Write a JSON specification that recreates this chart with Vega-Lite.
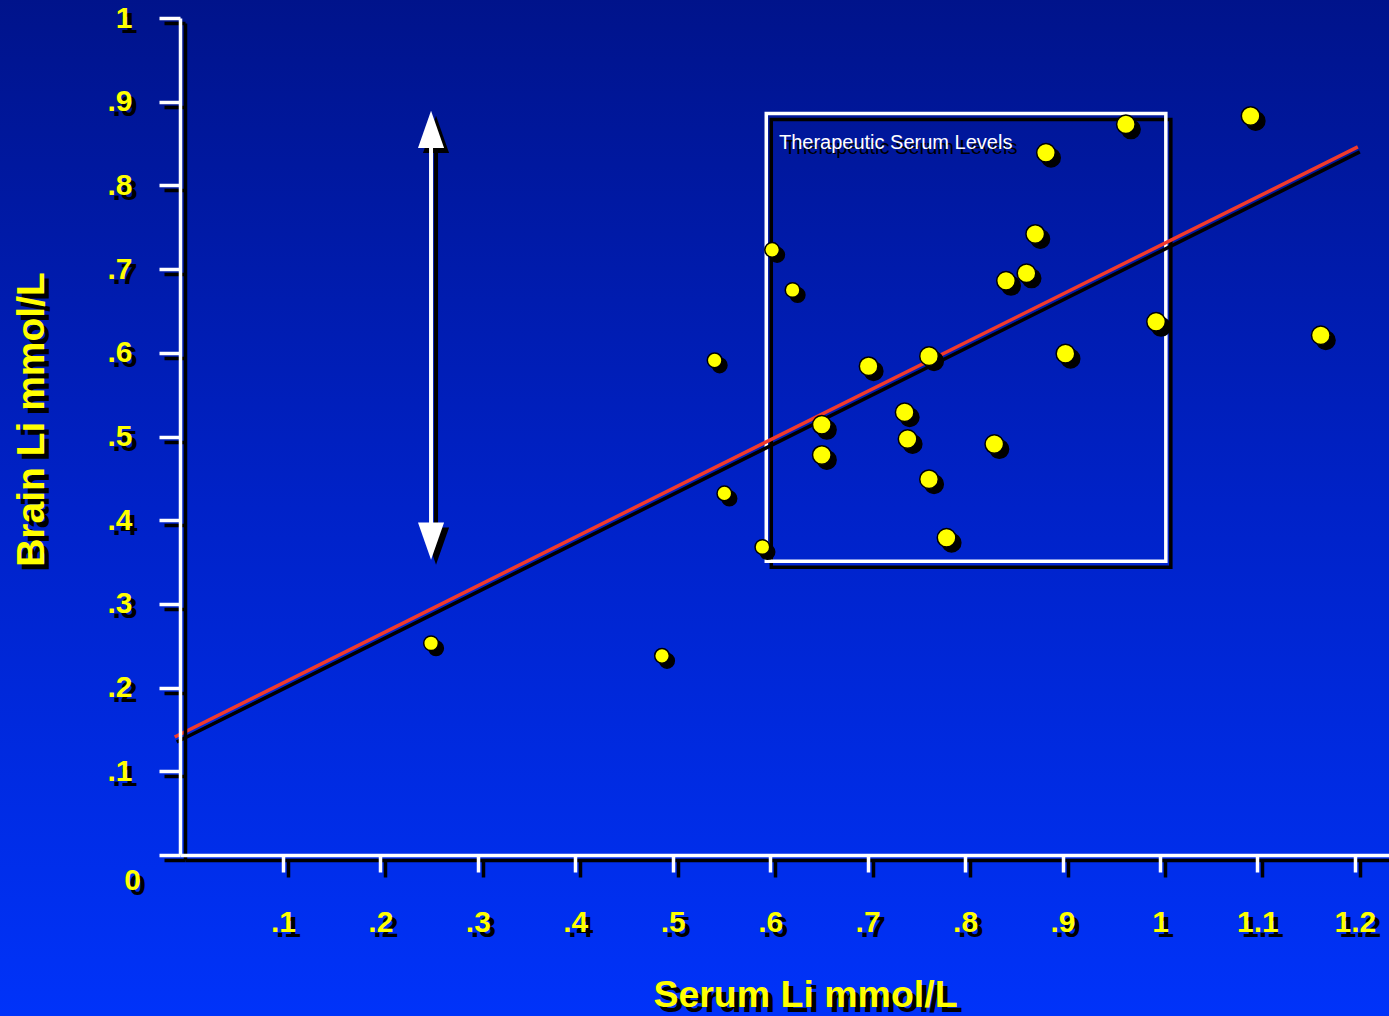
{
  "$schema": "https://vega.github.io/schema/vega-lite/v6.json",
  "width": 1209,
  "height": 837,
  "autosize": {"type": "none"},
  "padding": {"left": 180, "top": 18, "right": 0, "bottom": 161},
  "background": "#0026C8",
  "config": {"view": {"stroke": null}},
  "datasets": {
    "bg": [{"x": -0.2, "x2": 1.3, "y": -0.2, "y2": 1.03}],
    "box": [{"x": 0.596, "x2": 1.006, "y": 0.351, "y2": 0.886, "lx": 0.609, "ly": 0.843, "label": "Therapeutic Serum Levels"}],
    "arrow": [{"x": 0.252, "yTop": 0.867, "yBottom": 0.375}],
    "fit": [{"x": -0.011, "y": 0.141}, {"x": 1.203, "y": 0.846}],
    "points": [
      {"serum": 0.252, "brain": 0.253, "series": "1"},
      {"serum": 0.489, "brain": 0.238, "series": "1"},
      {"serum": 0.543, "brain": 0.591, "series": "1"},
      {"serum": 0.553, "brain": 0.432, "series": "1"},
      {"serum": 0.592, "brain": 0.368, "series": "1"},
      {"serum": 0.602, "brain": 0.723, "series": "1"},
      {"serum": 0.623, "brain": 0.675, "series": "1"},
      {"serum": 0.653, "brain": 0.514, "series": "2"},
      {"serum": 0.653, "brain": 0.478, "series": "2"},
      {"serum": 0.701, "brain": 0.584, "series": "2"},
      {"serum": 0.738, "brain": 0.529, "series": "2"},
      {"serum": 0.741, "brain": 0.497, "series": "2"},
      {"serum": 0.763, "brain": 0.596, "series": "2"},
      {"serum": 0.763, "brain": 0.449, "series": "2"},
      {"serum": 0.781, "brain": 0.379, "series": "2"},
      {"serum": 0.830, "brain": 0.491, "series": "2"},
      {"serum": 0.842, "brain": 0.686, "series": "2"},
      {"serum": 0.863, "brain": 0.695, "series": "2"},
      {"serum": 0.872, "brain": 0.742, "series": "2"},
      {"serum": 0.883, "brain": 0.839, "series": "2"},
      {"serum": 0.903, "brain": 0.599, "series": "2"},
      {"serum": 0.965, "brain": 0.873, "series": "2"},
      {"serum": 0.996, "brain": 0.637, "series": "2"},
      {"serum": 1.093, "brain": 0.883, "series": "2"},
      {"serum": 1.165, "brain": 0.621, "series": "2"}
    ]
  },
  "resolve": {"axis": {"x": "independent", "y": "independent"}},
  "layer": [
    {
      "data": {"name": "bg"},
      "mark": {"type": "rect", "fill": {"gradient": "linear", "x1": 0, "y1": 0, "x2": 0, "y2": 1, "stops": [{"offset": 0, "color": "#00138A"}, {"offset": 0.5, "color": "#0022C8"}, {"offset": 1, "color": "#0033FA"}]}},
      "encoding": {
        "x": {"field": "x", "type": "quantitative", "scale": {"domain": [-0.0056, 1.235], "nice": false, "zero": false},
          "axis": {"orient": "bottom", "translate": 5.5, "zindex": 1, "values": [0.1,0.2,0.3,0.4,0.5,0.6,0.7,0.8,0.9,1,1.1,1.2],
            "labelExpr": "datum.value < 1 ? substring(format(datum.value, '.1f'), 1) : format(datum.value, '.1~f')",
            "grid": false, "domainColor": "#000000", "domainWidth": 3.5, "tickColor": "#000000", "tickWidth": 3.5, "tickSize": 17,
            "labelColor": "#000000", "labelFont": "Liberation Sans", "labelFontWeight": "bold", "labelFontSize": 30, "labelPadding": 35, "labelFlush": false, "labelOverlap": false,
            "title": "Serum Li mmol/L", "titleColor": "#000000", "titleFont": "Liberation Sans", "titleFontWeight": "bold", "titleFontSize": 37.5, "titleX": 625, "titleY": 151, "titleBaseline": "alphabetic", "titleAlign": "center"}},
        "x2": {"field": "x2"},
        "y": {"field": "y", "type": "quantitative", "scale": {"domain": [0, 1], "nice": false, "zero": false},
          "axis": {"orient": "left", "translate": 5.5, "zindex": 1, "values": [0,0.1,0.2,0.3,0.4,0.5,0.6,0.7,0.8,0.9,1],
            "labelExpr": "datum.value == 0 ? '0' : datum.value < 0.999 ? substring(format(datum.value, '.1f'), 1) : '1'",
            "grid": false, "domainColor": "#000000", "domainWidth": 3.5, "tickColor": "#000000", "tickWidth": 3.5, "tickSize": 21,
            "labelColor": "#000000", "labelFont": "Liberation Sans", "labelFontWeight": "bold", "labelFontSize": 30, "labelPadding": 27, "labelFlush": false, "labelOverlap": false, "labelBaseline": "middle",
            "labelAlign": {"condition": {"test": "datum.value == 0", "value": "center"}, "value": "right"},
            "labelOffset": {"condition": {"test": "datum.value == 0", "value": 25}, "value": 0},
            "title": "Brain Li mmol/L", "titleColor": "#000000", "titleFont": "Liberation Sans", "titleFontWeight": "bold", "titleFontSize": 39, "titleAngle": 270, "titleX": -137, "titleY": 401, "titleBaseline": "alphabetic", "titleAlign": "center"}},
        "y2": {"field": "y2"}
      }
    },
    {
      "data": {"name": "box"},
      "mark": {"type": "rect", "fill": null, "stroke": "#000000", "strokeWidth": 3.5, "xOffset": 5, "x2Offset": 5, "yOffset": 6, "y2Offset": 6},
      "encoding": {
        "x": {"field": "x", "type": "quantitative", "axis": null},
        "x2": {"field": "x2"},
        "y": {"field": "y", "type": "quantitative", "axis": null},
        "y2": {"field": "y2"}
      }
    },
    {
      "data": {"name": "box"},
      "mark": {"type": "rect", "fill": null, "stroke": "#FFFFFF", "strokeWidth": 3.5},
      "encoding": {
        "x": {"field": "x", "type": "quantitative", "scale": {"domain": [-0.0056, 1.235], "nice": false, "zero": false},
          "axis": {"orient": "bottom", "zindex": 2, "values": [0.1,0.2,0.3,0.4,0.5,0.6,0.7,0.8,0.9,1,1.1,1.2],
            "labelExpr": "datum.value < 1 ? substring(format(datum.value, '.1f'), 1) : format(datum.value, '.1~f')",
            "grid": false, "domainColor": "#FFFFFF", "domainWidth": 3.5, "tickColor": "#FFFFFF", "tickWidth": 3.5, "tickSize": 17,
            "labelColor": "#FFFF00", "labelFont": "Liberation Sans", "labelFontWeight": "bold", "labelFontSize": 30, "labelPadding": 35, "labelFlush": false, "labelOverlap": false,
            "title": "Serum Li mmol/L", "titleColor": "#FFFF00", "titleFont": "Liberation Sans", "titleFontWeight": "bold", "titleFontSize": 37.5, "titleX": 625, "titleY": 151, "titleBaseline": "alphabetic", "titleAlign": "center"}},
        "x2": {"field": "x2"},
        "y": {"field": "y", "type": "quantitative", "scale": {"domain": [0, 1], "nice": false, "zero": false},
          "axis": {"orient": "left", "zindex": 2, "values": [0,0.1,0.2,0.3,0.4,0.5,0.6,0.7,0.8,0.9,1],
            "labelExpr": "datum.value == 0 ? '0' : datum.value < 0.999 ? substring(format(datum.value, '.1f'), 1) : '1'",
            "grid": false, "domainColor": "#FFFFFF", "domainWidth": 3.5, "tickColor": "#FFFFFF", "tickWidth": 3.5, "tickSize": 21,
            "labelColor": "#FFFF00", "labelFont": "Liberation Sans", "labelFontWeight": "bold", "labelFontSize": 30, "labelPadding": 27, "labelFlush": false, "labelOverlap": false, "labelBaseline": "middle",
            "labelAlign": {"condition": {"test": "datum.value == 0", "value": "center"}, "value": "right"},
            "labelOffset": {"condition": {"test": "datum.value == 0", "value": 25}, "value": 0},
            "title": "Brain Li mmol/L", "titleColor": "#FFFF00", "titleFont": "Liberation Sans", "titleFontWeight": "bold", "titleFontSize": 39, "titleAngle": 270, "titleX": -137, "titleY": 401, "titleBaseline": "alphabetic", "titleAlign": "center"}},
        "y2": {"field": "y2"}
      }
    },
    {
      "data": {"name": "box"},
      "mark": {"type": "text", "align": "left", "baseline": "alphabetic", "font": "Liberation Sans", "fontSize": 20, "color": "#000000", "xOffset": 5, "yOffset": 5},
      "encoding": {
        "x": {"field": "lx", "type": "quantitative", "axis": null},
        "y": {"field": "ly", "type": "quantitative", "axis": null},
        "text": {"field": "label"}
      }
    },
    {
      "data": {"name": "box"},
      "mark": {"type": "text", "align": "left", "baseline": "alphabetic", "font": "Liberation Sans", "fontSize": 20, "color": "#FFFFFF"},
      "encoding": {
        "x": {"field": "lx", "type": "quantitative", "axis": null},
        "y": {"field": "ly", "type": "quantitative", "axis": null},
        "text": {"field": "label"}
      }
    },
    {
      "data": {"name": "arrow"},
      "mark": {"type": "rule", "color": "#000000", "strokeWidth": 4, "xOffset": 5, "yOffset": 5, "y2Offset": 5},
      "encoding": {
        "x": {"field": "x", "type": "quantitative", "axis": null},
        "y": {"field": "yTop", "type": "quantitative", "axis": null},
        "y2": {"field": "yBottom"}
      }
    },
    {
      "data": {"name": "arrow"},
      "mark": {"type": "point", "shape": "M0,-1L0.7,1L-0.7,1Z", "filled": true, "opacity": 1, "size": 1390, "color": "#000000", "xOffset": 5, "yOffset": 5},
      "encoding": {
        "x": {"field": "x", "type": "quantitative", "axis": null},
        "y": {"field": "yTop", "type": "quantitative", "axis": null}
      }
    },
    {
      "data": {"name": "arrow"},
      "mark": {"type": "point", "shape": "M0,1L0.7,-1L-0.7,-1Z", "filled": true, "opacity": 1, "size": 1390, "color": "#000000", "xOffset": 5, "yOffset": 5},
      "encoding": {
        "x": {"field": "x", "type": "quantitative", "axis": null},
        "y": {"field": "yBottom", "type": "quantitative", "axis": null}
      }
    },
    {
      "data": {"name": "arrow"},
      "mark": {"type": "rule", "color": "#FFFFFF", "strokeWidth": 4},
      "encoding": {
        "x": {"field": "x", "type": "quantitative", "axis": null},
        "y": {"field": "yTop", "type": "quantitative", "axis": null},
        "y2": {"field": "yBottom"}
      }
    },
    {
      "data": {"name": "arrow"},
      "mark": {"type": "point", "shape": "M0,-1L0.7,1L-0.7,1Z", "filled": true, "opacity": 1, "size": 1390, "color": "#FFFFFF"},
      "encoding": {
        "x": {"field": "x", "type": "quantitative", "axis": null},
        "y": {"field": "yTop", "type": "quantitative", "axis": null}
      }
    },
    {
      "data": {"name": "arrow"},
      "mark": {"type": "point", "shape": "M0,1L0.7,-1L-0.7,-1Z", "filled": true, "opacity": 1, "size": 1390, "color": "#FFFFFF"},
      "encoding": {
        "x": {"field": "x", "type": "quantitative", "axis": null},
        "y": {"field": "yBottom", "type": "quantitative", "axis": null}
      }
    },
    {
      "data": {"name": "fit"},
      "mark": {"type": "line", "color": "#000000", "strokeWidth": 3.5, "xOffset": 2, "yOffset": 5},
      "encoding": {
        "x": {"field": "x", "type": "quantitative", "axis": null},
        "y": {"field": "y", "type": "quantitative", "axis": null}
      }
    },
    {
      "data": {"name": "fit"},
      "mark": {"type": "line", "color": "#F23A2C", "strokeWidth": 3.5},
      "encoding": {
        "x": {"field": "x", "type": "quantitative", "axis": null},
        "y": {"field": "y", "type": "quantitative", "axis": null}
      }
    },
    {
      "data": {"name": "points"},
      "mark": {"type": "circle", "fill": "#000000", "stroke": "#000000", "strokeWidth": 1.5, "opacity": 1, "xOffset": 5, "yOffset": 5},
      "encoding": {
        "x": {"field": "serum", "type": "quantitative", "axis": null},
        "y": {"field": "brain", "type": "quantitative", "axis": null},
        "size": {"field": "series", "type": "nominal", "scale": {"domain": ["1", "2"], "range": [215, 345]}, "legend": null}
      }
    },
    {
      "data": {"name": "points"},
      "mark": {"type": "circle", "fill": "#FFFF00", "stroke": "#000000", "strokeWidth": 1.5, "opacity": 1},
      "encoding": {
        "x": {"field": "serum", "type": "quantitative", "axis": null},
        "y": {"field": "brain", "type": "quantitative", "axis": null},
        "size": {"field": "series", "type": "nominal", "scale": {"domain": ["1", "2"], "range": [215, 345]}, "legend": null}
      }
    }
  ]
}
